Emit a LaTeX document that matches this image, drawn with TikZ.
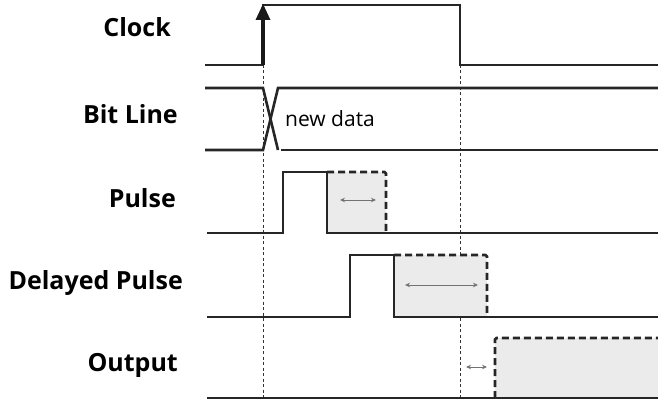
\documentclass[tikz,border=0pt]{standalone}
\usepackage{fontspec}
\setmainfont{Open Sans}
\usetikzlibrary{arrows.meta}
\begin{document}
\begin{tikzpicture}[x=1pt,y=-1pt,
  sig/.style={line width=2.6pt, line join=miter, black!85},
  dsig/.style={sig, dash pattern=on 7pt off 4pt, rounded corners=1.5pt},
  guide/.style={line width=0.8pt, black!80, dash pattern=on 3pt off 2.5pt},
  span/.style={{Stealth[length=5pt,width=4.5pt]}-{Stealth[length=5pt,width=4.5pt]}, line width=0.9pt, black!55},
  lbl/.style={anchor=base east, font=\fontsize{25}{28}\selectfont\bfseries, inner sep=0pt},
  shade/.style={fill=black!8, draw=none}]
\useasboundingbox (0,0) rectangle (658,401);
% labels
\node[lbl] (lclk) at (171,37) {Clock};
\node[lbl] (lbit) at (178,124) {Bit Line};
\node[lbl] (lpul) at (176,207) {Pulse};
\node[lbl] (ldel) at (183,289) {Delayed Pulse};
\node[lbl] (lout) at (178,371) {Output};
% guides
\coordinate (g1t) at (263,65); \coordinate (g1b) at (263,398);
\coordinate (g2t) at (460,65); \coordinate (g2b) at (460,398);
\draw[guide] (g1t) -- (g1b);
\draw[guide] (g2t) -- (g2b);
% shaded regions
\fill[shade] (327,172) rectangle (386,233);
\fill[shade] (394,255) rectangle (487,317);
\fill[shade] (495,338) rectangle (658,398);
% clock
\draw[sig] (205,65) -- (263,65) -- (263,5) -- (460,5) -- (460,65) -- (658,65);
\coordinate (ca) at (263,65); \coordinate (cb) at (263,19); \coordinate (ctip) at (263,4);
\draw[line width=3.6pt, black!90] (ca) -- (cb);
\fill[black!90] (255.5,20) -- (ctip) -- (270.5,20) -- cycle;
% bit line
\draw[sig] (205,88) -- (263,88) -- (278,150);
\draw[sig] (205,150) -- (263,150) -- (278,88) -- (658,88);
\draw[sig] (281,150) -- (658,150);
\node[anchor=base west, font=\fontsize{21}{24}\selectfont, inner sep=0pt] (nd) at (285,127) {new data};
% pulse
\draw[sig] (207,233) -- (283,233) -- (283,172) -- (327,172) -- (327,233) -- (658,233);
\draw[dsig] (327,172) -- (386,172) -- (386,233);
\coordinate (pa) at (340,200); \coordinate (pb) at (376,200);
\draw[span] (pa) -- (pb);
% delayed pulse
\draw[sig] (207,317) -- (350,317) -- (350,255) -- (394,255) -- (394,317) -- (658,317);
\draw[dsig] (394,255) -- (487,255) -- (487,317);
\coordinate (da) at (405,285); \coordinate (db) at (478,285);
\draw[span] (da) -- (db);
% output
\draw[sig] (207,398) -- (658,398);
\draw[dsig] (495,398) -- (495,338) -- (658,338);
\coordinate (oa) at (466,367); \coordinate (ob) at (487,367);
\draw[span] (oa) -- (ob);
\end{tikzpicture}
\end{document}
